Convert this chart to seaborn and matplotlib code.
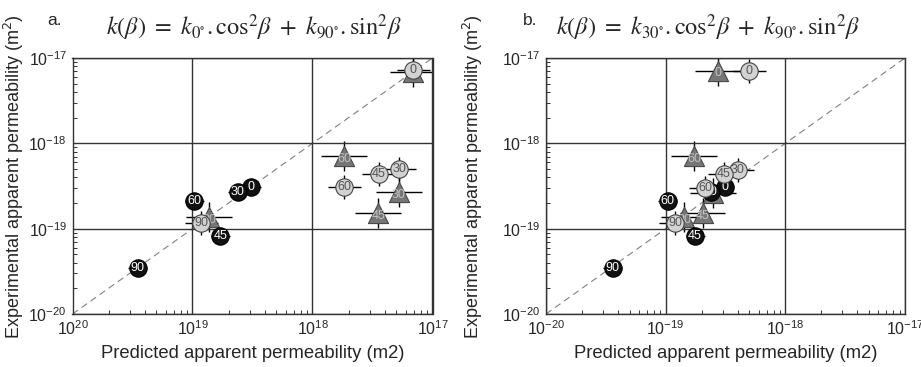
import numpy as np
import pandas as pd
import matplotlib.pyplot as plt
import seaborn as sns

sns.set_style("white")
plt.rcParams['font.family'] = ['Liberation Sans', 'DejaVu Sans']

angles = ['0', '30', '45', '60', '90']

# panel a  (k0 / k90 model)
a_black_x = [3.1e-19, 2.38e-19, 1.71e-19, 1.03e-19, 3.5e-20]
a_black_y = [3.1e-19, 2.72e-19, 8.3e-20, 2.13e-19, 3.5e-20]
a_grey_x = [6.9e-18, 5.3e-18, 3.55e-18, 1.84e-18, 1.18e-19]
a_grey_y = [7.2e-18, 5.0e-19, 4.35e-19, 3.05e-19, 1.17e-19]
a_tri_x = [6.9e-18, 5.25e-18, 3.53e-18, 1.84e-18, 1.37e-19]
a_tri_y = [6.9e-18, 2.69e-19, 1.51e-19, 7.1e-19, 1.38e-19]

# panel b  (k30 / k90 model)
b_black_x = [3.13e-19, 2.38e-19, 1.76e-19, 1.04e-19, 3.6e-20]
b_black_y = [3.11e-19, 2.72e-19, 8.3e-20, 2.13e-19, 3.5e-20]
b_grey_x = [5.0e-19, 4.0e-19, 3.07e-19, 2.14e-19, 1.2e-19]
b_grey_y = [7.1e-18, 4.9e-19, 4.35e-19, 3.03e-19, 1.17e-19]
b_tri_x = [2.72e-19, 2.48e-19, 2.04e-19, 1.73e-19, 1.42e-19]
b_tri_y = [7.1e-18, 2.6e-19, 1.51e-19, 7.1e-19, 1.38e-19]

# multiplicative uncertainty per series
err_x = {'black': 1.2, 'grey': 1.37, 'tri': 1.55}
err_y = {'black': 1.1, 'grey': 1.38, 'tri': 1.5}

ticks = [1e-20, 1e-19, 1e-18, 1e-17]
a_xticklabels = ['20', '19', '18', '17']
b_xticklabels = ['-20', '-19', '-18', '-17']
yticklabels = ['-20', '-19', '-18', '-17']

styles = {
    'tri': dict(marker='^', s=14.5**2, color='#767676', edgecolor='#4a4a4a', text='#c4c4c4', z=3),
    'black': dict(marker='o', s=12.5**2, color='#111111', edgecolor='#000000', text='white', z=4),
    'grey': dict(marker='o', s=12.5**2, color='#d2d2d2', edgecolor='#444444', text='#555555', z=5),
}


def make_df(black_x, black_y, grey_x, grey_y, tri_x, tri_y):
    frames = []
    for name, xs, ys in [('tri', tri_x, tri_y), ('black', black_x, black_y), ('grey', grey_x, grey_y)]:
        frames.append(pd.DataFrame({'x': xs, 'y': ys, 'angle': angles, 'series': name}))
    return pd.concat(frames, ignore_index=True)


def draw_panel(ax, df, xlabels):
    ax.set_xscale('log')
    ax.set_yscale('log')
    ax.set_xlim(1e-20, 1e-17)
    ax.set_ylim(1e-20, 1e-17)
    ax.plot([1e-20, 1e-17], [1e-20, 1e-17], color='#808080', lw=0.8, dashes=(6, 4), zorder=1)

    for name in ['tri', 'black', 'grey']:
        d = df[df['series'] == name]
        fx, fy = err_x[name], err_y[name]
        xe = [d['x'] - d['x'] / fx, d['x'] * fx - d['x']]
        ye = [d['y'] - d['y'] / fy, d['y'] * fy - d['y']]
        ax.errorbar(d['x'], d['y'], xerr=xe, yerr=ye, fmt='none', ecolor='black',
                    elinewidth=1, capsize=0, zorder=2)

    for name in ['tri', 'black', 'grey']:
        st = styles[name]
        d = df[df['series'] == name]
        sns.scatterplot(data=d, x='x', y='y', ax=ax, marker=st['marker'], s=st['s'],
                        color=st['color'], edgecolor=st['edgecolor'], linewidth=0.8,
                        zorder=st['z'], legend=False)
        off = -2 if name == 'tri' else 0
        for _, r in d.iterrows():
            ax.annotate(r['angle'], (r['x'], r['y']), xytext=(0, off), textcoords='offset points',
                        ha='center', va='center', fontsize=9, color=st['text'], zorder=st['z'])

    ax.grid(True, which='major', color='#333333', lw=1)
    ax.set_axisbelow(False)
    for sp in ax.spines.values():
        sp.set_color('#333333')
        sp.set_linewidth(1)
    ax.set_xticks(ticks)
    ax.set_yticks(ticks)
    ax.set_xticklabels([r'$\mathregular{10^{%s}}$' % t for t in xlabels], fontsize=11.5)
    ax.set_yticklabels([r'$\mathregular{10^{%s}}$' % t for t in yticklabels], fontsize=11.5)
    ax.tick_params(which='major', length=0, pad=4)
    ax.tick_params(which='minor', direction='in', length=3, width=0.7, color='#333333',
                   bottom=True, left=True, top=False, right=False)
    ax.set_xlabel('Predicted apparent permeability (m2)', fontsize=13.3, labelpad=5)
    ax.set_ylabel('Experimental apparent permeability (m$^2$)', fontsize=13)


fig = plt.figure(figsize=(9.21, 3.67), dpi=100)
ax_a = fig.add_axes([72.5 / 921, 53 / 367, 360 / 921, 256 / 367])
ax_b = fig.add_axes([546 / 921, 53 / 367, 359 / 921, 256 / 367])

draw_panel(ax_a, make_df(a_black_x, a_black_y, a_grey_x, a_grey_y, a_tri_x, a_tri_y), a_xticklabels)
draw_panel(ax_b, make_df(b_black_x, b_black_y, b_grey_x, b_grey_y, b_tri_x, b_tri_y), b_xticklabels)

ax_a.yaxis.set_label_coords(-0.13, 0.535)
ax_b.yaxis.set_label_coords(-0.17, 0.535)

fig.text(47 / 921, 1 - 25 / 367, 'a.', fontsize=12.5)
fig.text(523 / 921, 1 - 25 / 367, 'b.', fontsize=12.5)
fig.text(254 / 921, 1 - 35 / 367,
         r'$k(\beta)\ =\ k_{0^{\circ}}.\mathrm{cos}^2\beta\ +\ k_{90^{\circ}}.\mathrm{sin}^2\beta$',
         ha='center', va='baseline', fontsize=17.5, math_fontfamily='stix')
fig.text(708 / 921, 1 - 35 / 367,
         r'$k(\beta)\ =\ k_{30^{\circ}}.\mathrm{cos}^2\beta\ +\ k_{90^{\circ}}.\mathrm{sin}^2\beta$',
         ha='center', va='baseline', fontsize=17.5, math_fontfamily='stix')

fig.savefig('out.png', dpi=100)
